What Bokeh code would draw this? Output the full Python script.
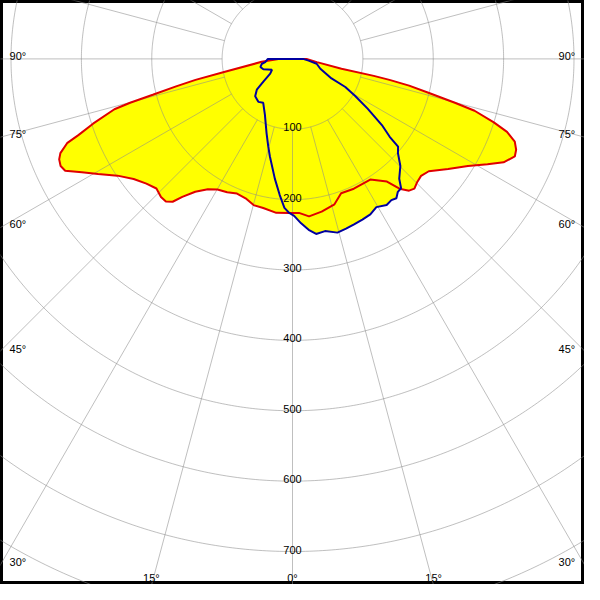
import numpy as np
from bokeh.plotting import figure
from bokeh.models import Range1d
from bokeh.embed import file_html
from bokeh.resources import INLINE
from bokeh.core.properties import value

# ---- data: luminous intensity (cd) vs angle (deg, 0 = straight down) ----
red_deg = [-90, -84.6, -79.2, -77.8, -76.7, -75.6, -74.9, -74.2, -72.0, -70.4, -69.5, -67.9,
           -66.7, -65.2, -63.8, -61.7, -59.4, -56.3, -52.9, -49.5, -46.4, -43.6, -41.6, -40.0,
           -38.6, -36.2, -33.0, -29.9, -26.1, -22.4, -18.6, -14.9, -11.1, -6.0, -1.2, 2.4, 6.0,
           10.8, 16.1, 19.9, 25.3, 32.8, 37.6, 39.5, 41.5, 43.2, 45.4, 47.7, 50.5, 54.7, 58.6,
           61.6, 63.9, 66.3, 67.9, 69.6, 71.2, 72.5, 74.1, 74.9, 76.0, 77.1, 77.8, 78.2, 78.7,
           82.5, 90]
red_cd = [20, 44, 99, 141, 170, 205, 239, 263, 298, 323, 342, 356,
          361, 363, 360, 340, 321, 299, 283, 273, 267, 271, 271, 265,
          251, 234, 221, 214, 211, 207, 209, 215, 216, 220, 219, 219, 225,
          221, 215, 203, 204, 204, 220, 239, 250, 253, 249, 247, 251, 271, 292,
          315, 334, 345, 343, 337, 322, 300, 269, 239, 200, 170, 141, 118, 71,
          35, 20]

blue_deg = [-90, -83.3, -81, -76, -70.4, -62, -56.5, -52.2, -49.2, -45, -38.5, -33.7, -26.5,
            -19.2, -15.5, -13.1, -8.4, -5.4, -3.1, -1.2, 0.6, 3.0, 5.4, 7.7, 10.7, 14.5, 17.5,
            20.4, 23.5, 26.6, 29.5, 32.8, 35.0, 36.7, 38.4, 40.0, 41.7, 45.2, 48.2, 50.3, 51.3,
            53.5, 56.5, 59.5, 62.0, 63.4, 70.5, 78.7, 84.0, 90]
blue_cd = [35, 39, 44, 47, 44, 33, 38, 52, 67, 75, 78, 75, 88,
           112, 129, 142, 172, 194, 212, 219, 223, 234, 244, 251, 249, 255, 253,
           251, 249, 247, 242, 247, 245, 247, 241, 240, 228, 216, 201, 195, 177,
           158, 128, 103, 85, 62, 42, 35, 23, 15]

ring_values = [100, 200, 300, 400, 500, 600, 700, 800]
ring_labels = ["100", "200", "300", "400", "500", "600", "700"]
spoke_deg = list(range(0, 360, 15))
angle_labels_left = ["90°", "75°", "60°", "45°", "30°"]
angle_labels_bottom = ["15°", "0°", "15°"]

# ---- layout (reference pixel geometry: centre at (300,60), 0.723 px per cd) ----
PX = 0.723
CX, CY = 300.0, 60.0


def px2d(px, py):
    return (px - CX) / PX, (CY - py) / PX


def polar(deg, cd):
    t = np.radians(np.asarray(deg, dtype=float))
    r = np.asarray(cd, dtype=float)
    return r * np.sin(t), -r * np.cos(t)


x0, y1 = px2d(0, 0)
x1, y0 = px2d(600, 600)

p = figure(width=584, height=584, x_range=Range1d(x0, x1), y_range=Range1d(y0, y1),
           output_backend="svg", toolbar_location=None,
           x_axis_location=None, y_axis_location=None, min_border=0,
           background_fill_color="white", border_fill_color="white",
           outline_line_color="black", outline_line_width=5)
p.grid.visible = False

# closed curves through the centre
rx, ry = polar(red_deg, red_cd)
bx, by = polar(blue_deg, blue_cd)
rx = np.concatenate([[0], rx, [0]]); ry = np.concatenate([[0], ry, [0]])
bx = np.concatenate([[0], bx, [0]]); by = np.concatenate([[0], by, [0]])

p.patch(rx, ry, fill_color="#ffff00", line_color=None)
p.patch(bx, by, fill_color="#ffff00", line_color=None)

# grid
th = np.linspace(0, 360, 721)
ring_xs, ring_ys = [], []
for rv in ring_values:
    gx, gy = polar(th, np.full_like(th, rv))
    ring_xs.append(gx); ring_ys.append(gy)
p.multi_line(ring_xs, ring_ys, line_color="#8a8a8a", line_alpha=0.55, line_width=1)

sp_xs, sp_ys = [], []
for a in spoke_deg:
    gx, gy = polar([a, a], [100, 1200])
    sp_xs.append(list(gx)); sp_ys.append(list(gy))
p.multi_line(sp_xs, sp_ys, line_color="#8a8a8a", line_alpha=0.55, line_width=1)

# curves
p.line(rx, ry, line_color="#e00000", line_width=2)
p.line(bx, by, line_color="#0000a0", line_width=2)

FONT = value("Liberation Sans")

# ring labels
lx = [0.0] * len(ring_labels)
ly = [-v for v in ring_values[:len(ring_labels)]]
p.text(x=lx, y=ly, text=ring_labels, text_font=FONT, text_font_size="11px",
       text_color="black", text_align="center", text_baseline="alphabetic", y_offset=-2)

# angle labels
left_y_px = [56.7, 137.3, 230, 358, 577]
lpos = [px2d(9.3, yy) for yy in left_y_px]
rpos = [px2d(590.5, yy) for yy in left_y_px]
p.text(x=[q[0] for q in lpos], y=[q[1] for q in lpos], text=angle_labels_left,
       text_font=FONT, text_font_size="11px", text_color="black",
       text_align="left", text_baseline="alphabetic")
p.text(x=[q[0] for q in rpos], y=[q[1] for q in rpos], text=angle_labels_left,
       text_font=FONT, text_font_size="11px", text_color="black",
       text_align="right", text_baseline="alphabetic")
bpos = [px2d(155, 593), px2d(300, 593), px2d(445, 593)]
p.text(x=[q[0] for q in bpos], y=[q[1] for q in bpos], text=angle_labels_bottom,
       text_font=FONT, text_font_size="11px", text_color="black",
       text_align="center", text_baseline="alphabetic")

open("out.html", "w").write(file_html(p, INLINE))
